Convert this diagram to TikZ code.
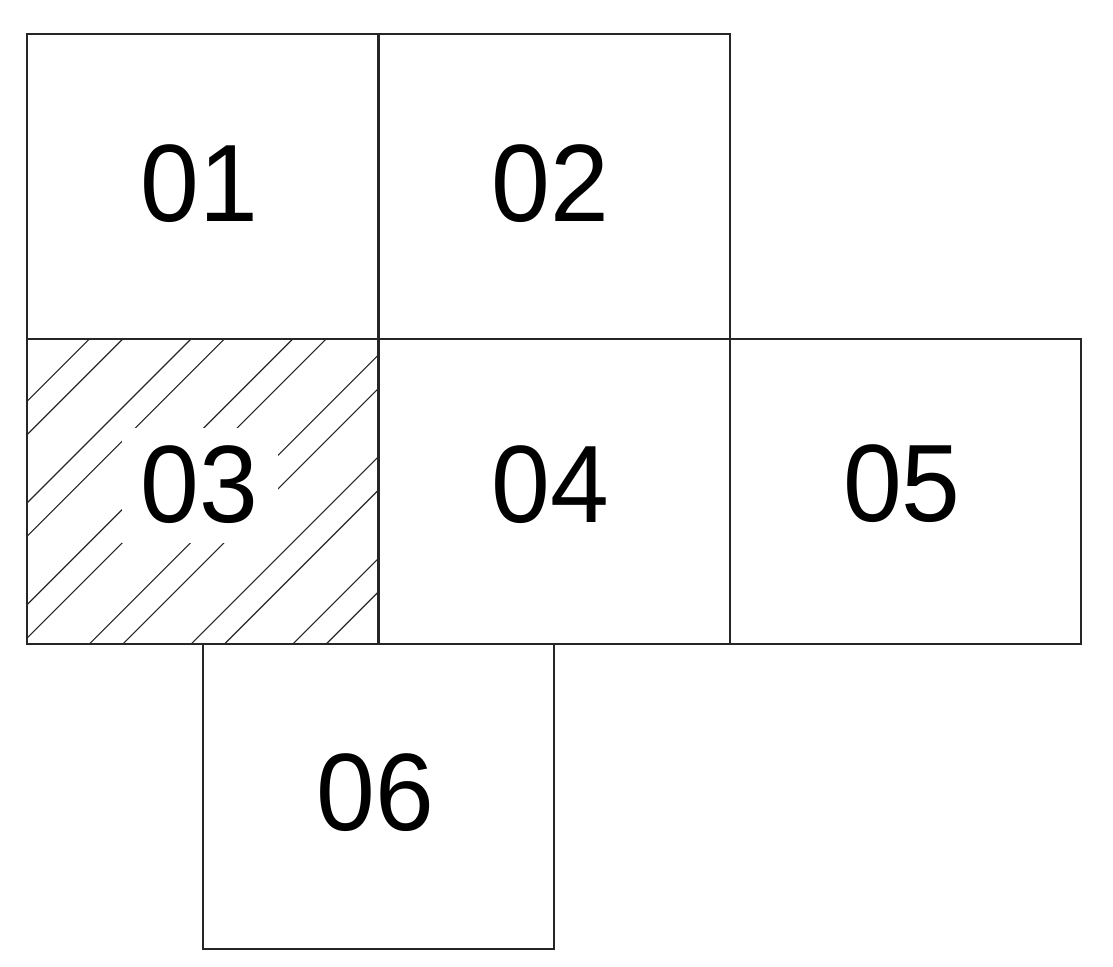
\documentclass[tikz,border=0pt]{standalone}
\usepackage{fontspec}
\setmainfont{Liberation Sans}
\begin{document}
\begin{tikzpicture}[x=0.01cm,y=-0.01cm,
  cell/.style={draw=black!85,line width=0.55pt,minimum width=3.512cm,minimum height=3.047cm,inner sep=0pt,outer sep=0pt},
  num/.style={anchor=base,inner sep=0pt,xscale=0.96,transform shape,font=\fontsize{31.3}{32}\selectfont},
  hatchline/.style={draw=black!85,line width=0.32pt},
  mask/.style={fill=white,draw=none}]
\useasboundingbox (0,0) rectangle (1113,966);
% hatching of cell 03
\begin{scope}
  \clip (27.3,339.3) rectangle (378.5,644);
  \foreach \k in {0,...,5}{
    \pgfmathsetmacro{\ca}{428.3+101.7*\k}
    \pgfmathsetmacro{\cb}{461.7+101.7*\k}
    \draw[hatchline] (\ca-330,330) -- (\ca-660,660);
    \draw[hatchline] (\cb-330,330) -- (\cb-660,660);
  }
\end{scope}
\path[mask] (121.7,428) rectangle (278,543);
% cells
\node[cell] (b01) at (202.9,186.8) {};
\node[cell] (b02) at (554.1,186.8) {};
\node[cell] (b03) at (202.9,491.7) {};
\node[cell] (b04) at (554.1,491.7) {};
\node[cell] (b05) at (905.2,491.7) {};
\node[cell] (b06) at (378.5,796.2) {};
% labels
\node[num] (t01) at (199.5,221.7) {01};
\node[num] (t02) at (550.7,221.7) {02};
\node[num] (t03) at (199.5,522.3) {03};
\node[num] (t04) at (550.7,522.3) {04};
\node[num] (t05) at (901.8,521.7) {05};
\node[num] (t06) at (375.1,830.3) {06};
\end{tikzpicture}
\end{document}
